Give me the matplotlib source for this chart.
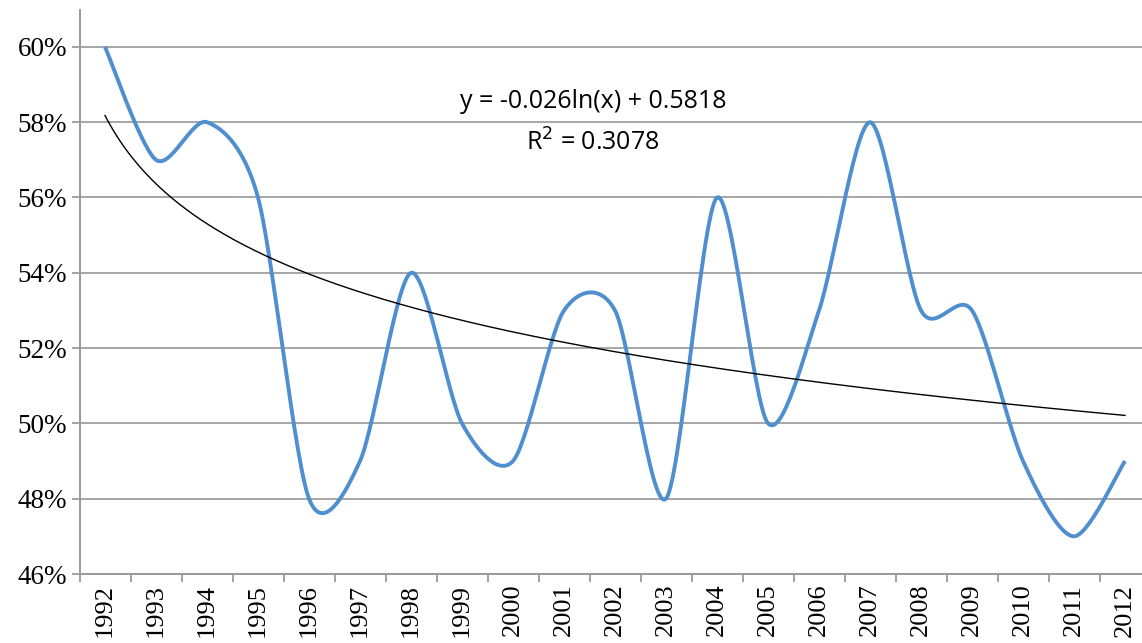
import numpy as np
import matplotlib
matplotlib.use("Agg")
import matplotlib.pyplot as plt

# données
years = ["1992", "1993", "1994", "1995", "1996", "1997", "1998", "1999", "2000", "2001", "2002",
         "2003", "2004", "2005", "2006", "2007", "2008", "2009", "2010", "2011", "2012"]
values = [0.60, 0.57, 0.58, 0.56, 0.48, 0.49, 0.54, 0.50, 0.49, 0.53, 0.53,
          0.48, 0.56, 0.50, 0.53, 0.58, 0.53, 0.53, 0.49, 0.47, 0.49]
y_ticks = [0.46, 0.48, 0.50, 0.52, 0.54, 0.56, 0.58, 0.60]
y_labels = ["46%", "48%", "50%", "52%", "54%", "56%", "58%", "60%"]
trend_text = "y = -0.026ln(x) + 0.5818\nR$^2$ = 0.3078"


def smooth(x, y, n=30, k=0.85):
    # courbe lissée (Bezier cubique, tangentes type Catmull-Rom)
    x = np.asarray(x, float)
    y = np.asarray(y, float)
    px = np.concatenate([[x[0]], x, [x[-1]]])
    py = np.concatenate([[y[0]], y, [y[-1]]])
    xs, ys = [], []
    t = np.linspace(0, 1, n, endpoint=False)
    for i in range(1, len(px) - 2):
        for p, out in ((px, xs), (py, ys)):
            p0, p1, p2, p3 = p[i - 1], p[i], p[i + 1], p[i + 2]
            c1 = p1 + k * (p2 - p0) / 6
            c2 = p2 - k * (p3 - p1) / 6
            out.extend((1 - t) ** 3 * p1 + 3 * (1 - t) ** 2 * t * c1
                       + 3 * (1 - t) * t ** 2 * c2 + t ** 3 * p2)
    xs.append(x[-1])
    ys.append(y[-1])
    return np.array(xs), np.array(ys)


x = np.arange(len(years))
sx, sy = smooth(x, values)

# tendance logarithmique ajustée sur les données
a, b = np.polyfit(np.log(x + 1), values, 1)
tx = np.linspace(0, len(years) - 1, 300)
ty = a * np.log(tx + 1) + b

fig = plt.figure(figsize=(11.42, 6.43), dpi=100)
ax = fig.add_axes([79.5 / 1142, 69 / 643, 1071 / 1142, 564 / 643])

ax.plot(sx, sy, color="#4F8FD0", linewidth=2.8, solid_capstyle="butt", zorder=3)
ax.plot(tx, ty, color="black", linewidth=1.0, zorder=4)

ax.set_xlim(-0.5, len(years) - 0.5)
ax.set_ylim(0.46, 0.6098)
ax.set_yticks(y_ticks)
ax.set_yticklabels(y_labels, fontsize=19.5, family="Liberation Serif")
ax.set_xticks(x)
ax.set_xticklabels(years, rotation=90, fontsize=19, family="Liberation Serif")
ax.set_xticks(np.arange(-0.5, len(years)), minor=True)
ax.tick_params(axis="x", which="major", length=0, pad=7)
ax.tick_params(axis="x", which="minor", length=6, width=1.3, color="#9a9a9a")
ax.tick_params(axis="y", length=6, width=1.3, color="#9a9a9a", pad=3)

ax.grid(axis="y", color="#a6a6a6", linewidth=1.4)
ax.set_axisbelow(True)
for side in ("top", "right"):
    ax.spines[side].set_visible(False)
for side in ("left", "bottom"):
    ax.spines[side].set_color("#9a9a9a")
    ax.spines[side].set_linewidth(1.4)

ax.text(9.57, 0.5798, trend_text, ha="center", va="center", fontsize=18,
        family="Open Sans", linespacing=1.7, zorder=5)

fig.savefig("out.png", dpi=100)
